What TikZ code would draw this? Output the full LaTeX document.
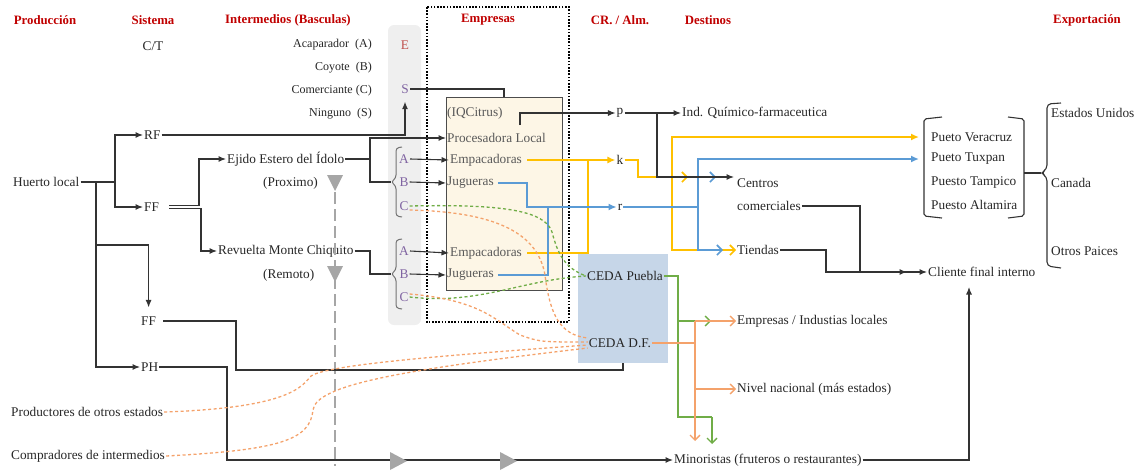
\documentclass[tikz,border=0pt]{standalone}
\usepackage{fontspec}
\setmainfont{Liberation Serif}
\usetikzlibrary{arrows.meta}

\definecolor{hdrred}{HTML}{C00000}
\definecolor{yelc}{HTML}{FFC000}
\definecolor{bluc}{HTML}{5B9BD5}
\definecolor{grnc}{HTML}{70AD47}
\definecolor{orgc}{HTML}{F4A26B}
\definecolor{purc}{HTML}{8064A2}
\definecolor{ered}{HTML}{C0504D}
\definecolor{panelgray}{HTML}{EFEFEF}
\definecolor{beige}{HTML}{FDF6E6}
\definecolor{cedac}{HTML}{C6D6E8}
\definecolor{trigray}{HTML}{A6A6A6}

\tikzset{
  txt/.style={inner sep=1pt, font=\fontsize{13.3}{15}\selectfont, text=black!85},
  lt/.style={txt, anchor=west},
  boxtxt/.style={lt, text=black!65},
  letter/.style={txt, text=purc},
  hdr/.style={inner sep=1pt, font=\fontsize{12.8}{14}\selectfont\bfseries, text=hdrred},
  leg/.style={inner sep=1pt, font=\fontsize{12}{13}\selectfont, anchor=east, text=black!85},
  ln/.style={draw=black!80, line width=1.1pt},
  arr/.style={ln, -{Latex[length=7.5pt,width=6pt]}},
  yl/.style={draw=yelc, line width=1.6pt},
  bl/.style={draw=bluc, line width=1.6pt},
  gn/.style={draw=grnc, line width=1.3pt},
  og/.style={draw=orgc, line width=1.3pt},
  opentip/.style={-{Straight Barb[length=5pt,width=10pt]}},
  filltip/.style={-{Latex[length=8pt,width=7pt]}},
  dsh/.style={dash pattern=on 3pt off 2.5pt, line width=1.3pt},
  tri/.style={fill=trigray},
}

\begin{document}
\begin{tikzpicture}[x=1pt,y=-1pt]
\useasboundingbox (0,0) rectangle (1145,472);

% ---------- panels ----------
\fill[panelgray, rounded corners=6pt] (388,25) rectangle (421,325);
\draw[black, line width=1.6pt, dash pattern=on 1.6pt off 1.6pt] (427,7) rectangle (569,322);
\node[draw=black!70, fill=beige, line width=1pt, minimum width=116pt, minimum height=193pt,
      anchor=north west, inner sep=0] (empbox) at (446,97) {};
\node[fill=cedac, minimum width=90pt, minimum height=109pt, anchor=north west, inner sep=0]
      (cedabox) at (578,254) {};

% ---------- headers ----------
\node[hdr] (hprod) at (45,20) {Producción};
\node[hdr] (hsis) at (153,20) {Sistema};
\node[hdr] (hint) at (288,20) {Intermedios (Basculas)};
\node[hdr] (hemp) at (488,20) {Empresas};
\node[hdr] (hcr) at (620,20) {CR. / Alm.};
\node[hdr] (hdes) at (708,20) {Destinos};
\node[hdr] (hexp) at (1087,20) {Exportación};

% ---------- legend ----------
\node[txt] (ct) at (153,46) {C/T};
\node[leg] (lga) at (373,45) {Acaparador~~(A)};
\node[leg] (lgb) at (373,68) {Coyote~~(B)};
\node[leg] (lgc) at (373,91) {Comerciante~(C)};
\node[leg] (lgs) at (373,114) {Ninguno~~(S)};

% ---------- intermediaries column ----------
\node[txt, text=ered] (e) at (405,45) {E};
\node[letter] (s) at (405,89) {S};
\node[letter] (a1) at (404,159) {A};
\node[letter] (b1) at (404,182) {B};
\node[letter] (c1) at (404,206) {C};
\node[letter] (a2) at (404,251) {A};
\node[letter] (b2) at (404,274) {B};
\node[letter] (c2) at (404,297) {C};
\coordinate (bt1) at (391,182);
\coordinate (bt2) at (391,274);
\draw[black!55, line width=1pt, rounded corners=3pt]
  (402,147) -- (396,148) -- (396,178) -- (391,182) -- (396,186) -- (396,216) -- (402,217);
\draw[black!55, line width=1pt, rounded corners=3pt]
  (402,239) -- (396,240) -- (396,270) -- (391,274) -- (396,278) -- (396,308) -- (402,309);

% ---------- production / system ----------
\node[lt] (huerto) at (12,182) {Huerto local};
\node[lt] (rf) at (143,135) {RF};
\node[lt] (ff1) at (143,207) {FF};
\node[lt] (ff2) at (140,321) {FF};
\node[lt] (ph) at (140,367) {PH};
\node[lt] (ejido) at (226,159) {Ejido Estero del Ídolo};
\node[lt] (prox) at (262,183) {(Proximo)};
\node[lt] (revu) at (217,251) {Revuelta Monte Chiquito};
\node[lt] (remo) at (262,275) {(Remoto)};
\node[lt] (prod) at (10,412) {Productores de otros estados};
\node[lt] (comp) at (10,456) {Compradores de intermedios};

% ---------- companies ----------
\node[boxtxt] (iq) at (446,113) {(IQCitrus)};
\node[boxtxt] (proc) at (446,138) {Procesadora Local};
\node[boxtxt] (emp1) at (449,160) {Empacadoras};
\node[boxtxt] (jug1) at (446,183) {Jugueras};
\node[boxtxt] (emp2) at (449,253) {Empacadoras};
\node[boxtxt] (jug2) at (446,275) {Jugueras};

% ---------- storage ----------
\node[txt] (p) at (620,113) {p};
\node[txt] (k) at (620,160) {k};
\node[txt] (r) at (620,207) {r};
\node[txt] (cedap) at (625,276) {CEDA Puebla};
\node[txt] (cedadf) at (620,343) {CEDA D.F.};

% ---------- destinations ----------
\node[lt] (ind) at (681,113) {Ind. Químico-farmaceutica};
\node[lt] (centros) at (736,183) {Centros};
\node[lt] (comer) at (736,206) {comerciales};
\node[lt] (tiendas) at (736,250) {Tiendas};
\node[lt] (cliente) at (927,272) {Cliente final interno};
\node[lt] (empind) at (736,321) {Empresas / Industias locales};
\node[lt] (nivel) at (736,389) {Nivel nacional (más estados)};
\node[lt] (mino) at (673,460) {Minoristas (fruteros o restaurantes)};

% ---------- export ----------
\node[lt] (vera) at (930,137) {Pueto Veracruz};
\node[lt] (tux) at (930,159) {Pueto Tuxpan};
\node[lt] (tam) at (930,183) {Puesto Tampico};
\node[lt] (alt) at (930,205) {Puesto Altamira};
\node[lt] (eu) at (1050,113) {Estados Unidos};
\node[lt] (can) at (1050,183) {Canada};
\node[lt] (otros) at (1050,251) {Otros Paices};
\draw[ln, rounded corners=2pt] (942,117) -- (924,119) -- (924,216) -- (942,218);
\draw[ln, rounded corners=2pt] (1008,117) -- (1024,119) -- (1024,216) -- (1008,218);
\draw[ln] (1024,173) -- (1041,173);
\draw[ln, rounded corners=4pt]
  (1061,103) -- (1047,104) -- (1047,169) -- (1041,173) -- (1047,177) -- (1047,266) -- (1061,268);

% ---------- dashed guide and gray markers ----------
\draw[trigray, line width=1.2pt, dash pattern=on 12pt off 5pt] (335,192) -- (335,466);
\fill[tri] (327,175) -- (343,175) -- (335,191) -- cycle;
\fill[tri] (327,266) -- (343,266) -- (335,282) -- cycle;

% ---------- black connectors ----------
\coordinate (hj) at (115,182);
\draw[ln] (huerto.east) -- (hj);
\draw[arr] (hj) |- (rf.west);
\draw[arr] (hj) |- (ff1.west);
\draw[arr] (96,182) |- (ph.west);
\draw[arr, shorten >=8pt] (96,245) -| (ff2.north);
\draw[arr, shorten >=7pt] (rf.east) -| (s.south);
\coordinate (stop) at (504,97);
\draw[ln] (s.east) -| (stop);
\draw[arr] ([xshift=9pt,yshift=1.8pt]ff1.east) -- (199,205.2) |- (ejido.west);
\draw[arr] ([xshift=9pt,yshift=-1.8pt]ff1.east) -- (201,208.8) |- (revu.west);
\draw[arr] (ejido.east) -- (370,159) |- (proc.west);
\draw[ln] (370,159) |- (bt1);
\draw[ln] (revu.east) -- (370,251) |- (bt2);
\draw[arr] (a1.east) -- (emp1.west);
\draw[arr] (b1.east) -- (jug1.west);
\draw[arr] (a2.east) -- (emp2.west);
\draw[arr] (b2.east) -- (jug2.west);
\coordinate (iqout) at (520,125);
\draw[arr] (iqout) |- (p.west);
\draw[arr] (p.east) -- (ind.west);
\draw[ln, shorten <=6pt] (ff2.east) -- (236,321) |- (623,370) -- (cedabox.south -| 623,0);
\draw[arr] (ph.east) -- (227,367) |- (mino.west);
\fill[tri] (390,452) -- (407,461) -- (390,470) -- cycle;
\fill[tri] (500,452) -- (517,461) -- (500,470) -- cycle;
\coordinate (cup) at (969,287);
\draw[arr] (mino.east) -| (cup);

% ---------- yellow flows (packers) ----------
\draw[yl, filltip, shorten <=4pt] (emp1.east) -- (k.west);
\draw[yl, shorten <=4pt] (emp2.east) -| (588,160);
\draw[yl, opentip] (k.east) -- (638,160) |- (688,177);
\draw[yl, filltip] (672,177) |- ([xshift=-11pt]vera.west);
\draw[yl, opentip] (672,177) |- (tiendas.west);

% ---------- blue flows (juice makers) ----------
\draw[bl, filltip, shorten <=3pt] (jug1.east) -- (527,183) |- (r.west);
\draw[bl, shorten <=3pt] (jug2.east) -| (548,207);
\draw[bl] (r.east) -- (698,207);
\draw[bl, filltip] (698,207) |- ([xshift=-11pt]tux.west);
\draw[bl, opentip] (698,207) |- (716,177);
\draw[bl, opentip] (698,207) |- (723,250);

% ---------- black to commercial centres and final client ----------
\draw[arr] (657,113) |- (734,177);
\draw[arr] (tiendas.east) -- (826,250) |- (907,272);
\draw[arr] (comer.east) -| (860,272) -- (cliente.west);

% ---------- CEDA outputs ----------
\draw[gn] (cedap.east) -| (678,417) -| (712,417);
\draw[gn, opentip] (712,417) -- (712,444);
\draw[gn, opentip] (678,321) -- (711,321);
\draw[og] (cedadf.east) -- (695,343);
\draw[og, opentip] (695,321) -- (695,441);
\draw[og, opentip] (695,321) -- (empind.west);
\draw[og, opentip] (695,389) -- (nivel.west);

% ---------- dashed flows into the CEDA ----------
\draw[grnc, dsh] (c1.east) .. controls (500,204) and (545,210) .. (552,232)
  .. controls (558,255) and (565,268) .. (cedap.west);
\draw[grnc, dsh] (c2.east) .. controls (480,305) and (520,280) .. (cedap.west);
\draw[orgc, dsh] ([yshift=-4pt]c1.east) .. controls (500,212) and (538,235) .. (545,275)
  .. controls (550,315) and (560,335) .. ([yshift=5pt]cedadf.west);
\draw[orgc, dsh] ([yshift=3pt]c2.east) .. controls (480,300) and (495,320) .. (520,335)
  .. controls (540,342) .. ([yshift=1pt]cedadf.west);
\draw[orgc, dsh] (prod.east) .. controls (280,408) and (300,390) .. (310,377)
  .. controls (320,365) and (450,355) .. ([yshift=-2pt]cedadf.west);
\draw[orgc, dsh] (comp.east) .. controls (280,450) and (310,440) .. (313,410)
  .. controls (316,385) and (400,370) .. ([yshift=-5pt]cedadf.west);
\end{tikzpicture}
\end{document}
